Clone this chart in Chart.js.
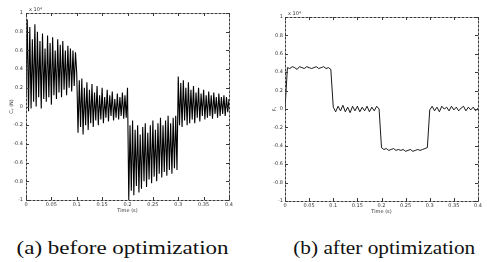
<!DOCTYPE html>
<html>
<head>
<meta charset="utf-8">
<script src="https://cdn.jsdelivr.net/npm/chart.js@4"></script>
<style>
  html, body { margin:0; padding:0; background:#fff; }
  body { width:487px; height:262px; position:relative; overflow:hidden; }
  #wa { position:absolute; left:0; top:0; width:243px; height:222px; }
  #wb { position:absolute; left:243px; top:0; width:244px; height:222px; }
  .cap { position:absolute; top:237px; font-family:"Liberation Serif", "DejaVu Serif", serif; font-size:19px; color:#111; white-space:nowrap; transform-origin:center; }
</style>
</head>
<body>
<div id="wa"><canvas id="ca" width="243" height="222"></canvas></div>
<div id="wb"><canvas id="cb" width="244" height="222"></canvas></div>
<div class="cap" id="capA">(a) before optimization</div>
<div class="cap" id="capB">(b) after optimization</div>
<script>
// ---- data ----
const timeStepBefore = 0.0025;
const beforeValues = [
  // 0 - 0.1 s
  0.1, 0.93, -0.05, 0.85, -0.02, 0.72, 0.05, 0.88, 0.0, 0.8, 0.1, 0.7, -0.02, 0.78, 0.08, 0.62, 0.05, 0.76, 0.1, 0.68,
  0.02, 0.74, 0.12, 0.6, 0.08, 0.72, 0.15, 0.66, 0.1, 0.7, 0.18, 0.6, 0.12, 0.65, 0.2, 0.62, 0.16, 0.6, 0.22, 0.58,
  // 0.1 - 0.2 s
  0.35, -0.28, 0.28, -0.22, 0.3, -0.3, 0.2, -0.2, 0.26, -0.25, 0.18, -0.18, 0.24, -0.22, 0.15, -0.15, 0.22, -0.2, 0.12, -0.14,
  0.2, -0.18, 0.1, -0.12, 0.18, -0.16, 0.12, -0.1, 0.16, -0.15, 0.08, -0.12, 0.14, -0.14, 0.1, -0.1, 0.15, -0.13, 0.12, -0.12,
  // 0.2 - 0.3 s
  0.2, -1.0, -0.2, -0.9, -0.15, -0.95, -0.25, -0.85, -0.2, -0.92, -0.3, -0.88, -0.22, -0.8, -0.18, -0.86, -0.28, -0.78, -0.2, -0.82,
  -0.15, -0.75, -0.25, -0.8, -0.18, -0.72, -0.12, -0.76, -0.2, -0.7, -0.15, -0.74, -0.1, -0.68, -0.18, -0.72, -0.12, -0.66, -0.1, -0.68,
  // 0.3 - 0.4 s
  0.32, -0.2, 0.25, -0.22, 0.28, -0.15, 0.2, -0.2, 0.26, -0.18, 0.18, -0.14, 0.22, -0.18, 0.15, -0.12, 0.2, -0.16, 0.14, -0.1,
  0.18, -0.14, 0.12, -0.12, 0.16, -0.1, 0.12, -0.13, 0.15, -0.08, 0.1, -0.12, 0.14, -0.1, 0.1, -0.08, 0.12, -0.1, 0.1, -0.06, 0.08
];
const timeStepAfter = 0.005;
const afterValues = [
  // 0 - 0.1 s
  0.0, 0.45, 0.44, 0.46, 0.45, 0.43, 0.46, 0.45, 0.44, 0.46, 0.45, 0.44, 0.45, 0.46, 0.44, 0.45, 0.46, 0.44, 0.45, 0.43,
  // 0.1 - 0.2 s
  0.02, -0.03, 0.03, -0.02, 0.04, -0.03, 0.02, -0.04, 0.03, -0.02, 0.03, -0.03, 0.02, -0.02, 0.03, -0.03, 0.02, -0.02, 0.03, 0.0,
  // 0.2 - 0.3 s
  -0.42, -0.44, -0.43, -0.45, -0.44, -0.43, -0.45, -0.44, -0.45, -0.44, -0.46, -0.45, -0.44, -0.46, -0.45, -0.44, -0.45, -0.44, -0.43, -0.42,
  // 0.3 - 0.4 s
  -0.01, 0.03, -0.02, 0.02, -0.03, 0.03, 0.0, 0.02, -0.02, 0.03, -0.01, 0.02, -0.02, 0.01, 0.03, -0.02, 0.02, -0.01, 0.02, -0.02, 0.01
];
const xTicks = [0, 0.05, 0.1, 0.15, 0.2, 0.25, 0.3, 0.35, 0.4];
const yTicks = [-1, -0.8, -0.6, -0.4, -0.2, 0, 0.2, 0.4, 0.6, 0.8, 1];
const xTitle = 'Time (s)';
const yTitleBefore = 'C\u1d67 (N)';
const yTitleAfter = 'F\u1d67';
const exponentLabel = 'x 10\u2074';

// ---- helpers ----
function toPoints(values, dt) {
  return values.map((v, i) => ({ x: +(i * dt).toFixed(4), y: v }));
}
function fmt(v) { return String(+(+v).toFixed(2)); }

const framePlugin = {
  id: 'frame',
  afterDraw(chart, args, opts) {
    const { ctx, chartArea: a } = chart;
    const xs = chart.scales.x, ys = chart.scales.y;
    ctx.save();
    ctx.strokeStyle = '#3a3a3a';
    ctx.lineWidth = 1;
    ctx.setLineDash([3, 1]);
    ctx.strokeRect(Math.round(a.left) + 0.5, Math.round(a.top) + 0.5,
                   Math.round(a.right - a.left), Math.round(a.bottom - a.top));
    ctx.setLineDash([]);
    ctx.beginPath();
    xs.ticks.forEach(t => {
      const px = Math.round(xs.getPixelForValue(t.value)) + 0.5;
      ctx.moveTo(px, a.bottom); ctx.lineTo(px, a.bottom - 3);
      ctx.moveTo(px, a.top); ctx.lineTo(px, a.top + 3);
    });
    ys.ticks.forEach(t => {
      const py = Math.round(ys.getPixelForValue(t.value)) + 0.5;
      ctx.moveTo(a.left, py); ctx.lineTo(a.left + 3, py);
      ctx.moveTo(a.right, py); ctx.lineTo(a.right - 3, py);
    });
    ctx.stroke();
    ctx.fillStyle = '#333';
    ctx.font = '5px "DejaVu Sans"';
    ctx.textBaseline = 'bottom';
    ctx.fillText(opts.exp, a.left + 3, a.top - 1);
    ctx.restore();
  }
};

function makeChart(id, values, dt, yTitle, geom) {
  return new Chart(document.getElementById(id), {
    type: 'line',
    data: {
      datasets: [{
        data: toPoints(values, dt),
        borderColor: '#000',
        borderWidth: geom.lw,
        pointRadius: 0,
        tension: 0,
        fill: false
      }]
    },
    options: {
      responsive: false,
      animation: false,
      events: [],
      layout: { padding: { top: geom.top, right: geom.right, left: 0, bottom: 0 } },
      plugins: { legend: { display: false }, tooltip: { enabled: false }, frame: { exp: exponentLabel } },
      scales: {
        x: {
          type: 'linear', min: 0, max: 0.4,
          afterBuildTicks(s) { s.ticks = xTicks.map(v => ({ value: v })); },
          afterFit(s) { s.height = geom.xh; },
          grid: { display: false, drawTicks: false, tickLength: 0 },
          border: { display: false },
          ticks: { font: { size: 5, family: 'DejaVu Sans' }, color: '#333', padding: 2, maxRotation: 0, autoSkip: false, callback: fmt },
          title: { display: true, text: xTitle, font: { size: 5, family: 'DejaVu Sans' }, color: '#333', padding: { top: geom.xtp, bottom: geom.xtp } }
        },
        y: {
          type: 'linear', min: -1, max: 1,
          afterBuildTicks(s) { s.ticks = yTicks.map(v => ({ value: v })); },
          afterFit(s) { s.width = geom.yw; },
          grid: { display: false, drawTicks: false, tickLength: 0 },
          border: { display: false },
          ticks: { font: { size: 5, family: 'DejaVu Sans' }, color: '#333', padding: geom.ytp, autoSkip: false, callback: fmt },
          title: { display: true, text: yTitle, font: { size: 5, family: 'DejaVu Sans' }, color: '#333', padding: { top: geom.ytt, bottom: geom.ytt } }
        }
      }
    },
    plugins: [framePlugin]
  });
}

makeChart('ca', beforeValues, timeStepBefore, yTitleBefore,
  { top: 13, right: 14, xh: 22, yw: 26, xtp: 8, ytp: 3, ytt: 9, lw: 1.1 });
makeChart('cb', afterValues, timeStepAfter, yTitleAfter,
  { top: 17, right: 9, xh: 21, yw: 42, xtp: 7, ytp: 2, ytt: 29, lw: 0.9 });

// captions: centre and stretch to reference widths
function placeCaption(id, cx, w) {
  const el = document.getElementById(id);
  const nat = el.getBoundingClientRect().width;
  const s = w / nat;
  el.style.left = (cx - nat / 2) + 'px';
  el.style.transform = 'scaleX(' + s.toFixed(3) + ')';
}
placeCaption('capA', 123, 212);
placeCaption('capB', 384, 182);
</script>
</body>
</html>
